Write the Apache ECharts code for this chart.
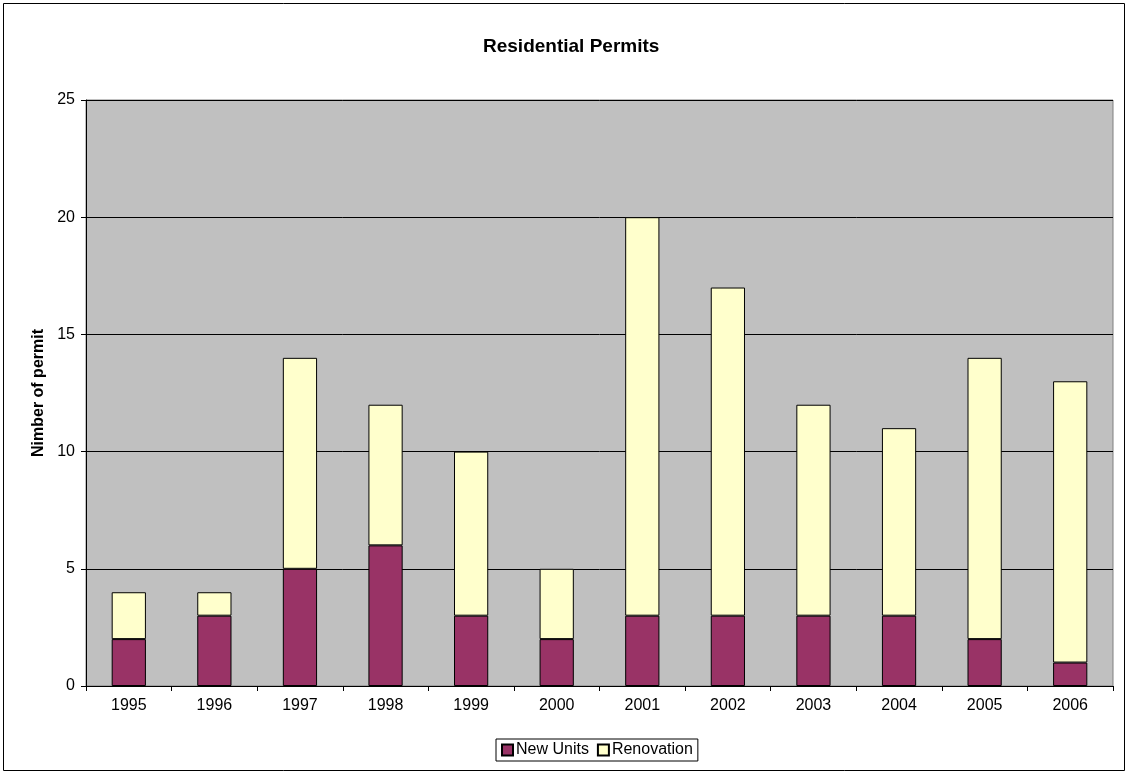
<!DOCTYPE html>
<html>
<head>
<meta charset="utf-8">
<script src="https://cdn.jsdelivr.net/npm/echarts@6/dist/echarts.min.js"></script>
<style>
  html, body { margin: 0; padding: 0; background: #fff; }
  #main { width: 1127px; height: 773px; }
</style>
</head>
<body>
<div id="main"></div>
<script>
var years = ["1995", "1996", "1997", "1998", "1999", "2000", "2001", "2002", "2003", "2004", "2005", "2006"]
var newUnits = [2, 3, 5, 6, 3, 2, 3, 3, 3, 3, 2, 1]
var renovation = [2, 1, 9, 6, 7, 3, 17, 14, 9, 8, 12, 12]

var chart = echarts.init(document.getElementById("main"), null, { renderer: "canvas" })

var font = "Arial, 'Liberation Sans', sans-serif"

var option = {
  animation: false,
  title: {
    text: "Residential Permits",
    left: 478,
    top: 32,
    textStyle: { fontFamily: font, fontSize: 19, fontWeight: "bold", color: "#000" },
  },
  graphic: [
    {
      type: "rect",
      shape: { x: 3.5, y: 3.5, width: 1121, height: 767 },
      style: { fill: null, stroke: "#000", lineWidth: 1 },
      silent: true,
    },
  ],
  legend: {
    bottom: 12,
    left: 496,
    itemWidth: 11,
    itemHeight: 11,
    itemGap: 8,
    padding: [3, 5, 3, 5],
    borderColor: "#000",
    borderWidth: 1,
    borderRadius: 0,
    textStyle: { fontFamily: font, fontSize: 16, color: "#000", padding: [0, 0, 0, -2] },
    data: [
      { name: "New Units", icon: "rect" },
      { name: "Renovation", icon: "rect" },
    ],
  },
  grid: {
    left: 86,
    right: 14,
    top: 100,
    bottom: 87,
    show: true,
    backgroundColor: "#C0C0C0",
    borderColor: "#808080",
    borderWidth: 1,
  },
  xAxis: {
    type: "category",
    data: years,
    axisLine: { lineStyle: { color: "#000" } },
    axisTick: { show: true, length: 5, lineStyle: { color: "#000" } },
    axisLabel: { fontFamily: font, fontSize: 16, color: "#000", margin: 12 },
  },
  yAxis: {
    type: "value",
    min: 0,
    max: 25,
    interval: 5,
    name: "Nimber of permit",
    nameLocation: "middle",
    nameGap: 39,
    nameTextStyle: { fontFamily: font, fontSize: 16, fontWeight: "bold", color: "#000" },
    axisLine: { show: true, lineStyle: { color: "#000" } },
    axisTick: { show: true, length: 5, lineStyle: { color: "#000" } },
    axisLabel: { fontFamily: font, fontSize: 16, color: "#000", margin: 11 },
    splitLine: { show: true, lineStyle: { color: "#000", width: 1 } },
  },
  series: [
    {
      name: "New Units",
      type: "bar",
      stack: "total",
      data: newUnits,
      barWidth: "40%",
      itemStyle: { color: "#993366", borderColor: "#000", borderWidth: 1 },
    },
    {
      name: "Renovation",
      type: "bar",
      stack: "total",
      data: renovation,
      barWidth: "40%",
      itemStyle: { color: "#FFFFCC", borderColor: "#000", borderWidth: 1 },
    },
  ],
}

chart.setOption(option)
</script>
</body>
</html>
